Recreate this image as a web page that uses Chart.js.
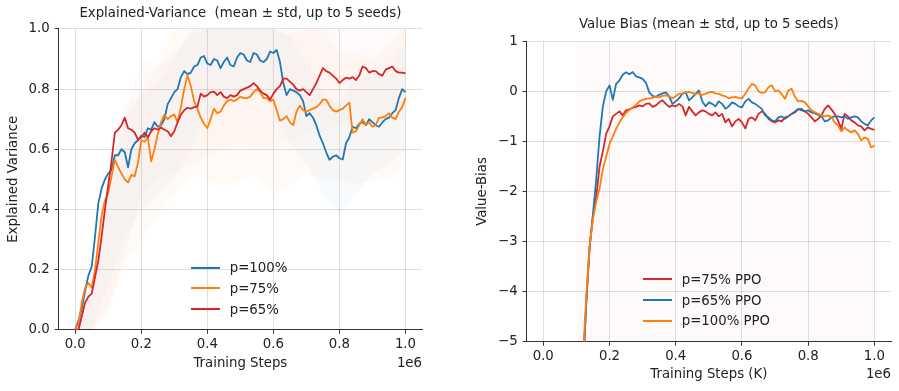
<!DOCTYPE html>
<html>
<head>
<meta charset="utf-8">
<script src="https://cdn.jsdelivr.net/npm/chart.js@4.4.1/dist/chart.umd.min.js"></script>
<style>
  body { margin: 0; background: #fff; width: 899px; height: 391px; position: relative; overflow: hidden; font-family: 'DejaVu Sans', sans-serif; }
  .panel { position: absolute; top: 0; }
  .legend { position: absolute; font-size: 13.3px; color: #222; }
  .legend .row { display: flex; align-items: center; height: 20.7px; white-space: nowrap; }
  .legend .swatch { display: inline-block; width: 29px; height: 2px; margin-right: 10px; }
</style>
</head>
<body>
<div class="panel" style="left:0"><canvas id="ev-chart" width="450" height="391" style="width:450px;height:391px"></canvas></div>
<div class="panel" style="left:450px"><canvas id="vb-chart" width="449" height="391" style="width:449px;height:391px"></canvas></div>
<div class="legend" id="ev-legend" style="left:190.7px; top:257.3px"></div>
<div class="legend" id="vb-legend" style="left:642.7px; top:269px"></div>

<script>
// Training steps (in thousands) for the mean curves
const stepsK = [0,10,20,30,40,50,60,70,80,90,100,110,120,130,140,150,160,170,180,190,
  200,210,220,230,240,250,260,270,280,290,300,310,320,330,340,350,360,370,380,390,
  400,410,420,430,440,450,460,470,480,490,500,510,520,530,540,550,560,570,580,590,
  600,610,620,630,640,650,660,670,680,690,700,710,720,730,740,750,760,770,780,790,
  800,810,820,830,840,850,860,870,880,890,900,910,920,930,940,950,960,970,980,990,1000];

// Coarser grid (thousands) for the std bands
const bandStepsK = [0,50,100,150,200,250,300,350,400,450,500,550,600,650,700,750,800,850,900,950,1000];

const xTicksK = [0, 200, 400, 600, 800, 1000];
const evTicks = [0, 0.2, 0.4, 0.6, 0.8, 1.0];
const vbTicks = [-5, -4, -3, -2, -1, 0, 1];

// Explained variance, mean curves
const evBlue = [0.00,0.03,0.07,0.13,0.18,0.21,0.31,0.42,0.47,0.50,
  0.52,0.53,0.58,0.58,0.60,0.59,0.54,0.60,0.62,0.63,
  0.645,0.64,0.67,0.665,0.69,0.675,0.68,0.70,0.75,0.77,
  0.79,0.80,0.84,0.86,0.85,0.855,0.875,0.88,0.905,0.91,
  0.885,0.88,0.90,0.895,0.87,0.89,0.905,0.88,0.875,0.905,
  0.92,0.915,0.895,0.89,0.92,0.915,0.895,0.89,0.90,0.925,
  0.92,0.93,0.89,0.82,0.78,0.80,0.795,0.79,0.78,0.76,
  0.71,0.72,0.705,0.68,0.645,0.62,0.59,0.565,0.575,0.58,
  0.57,0.566,0.62,0.64,0.675,0.67,0.685,0.69,0.68,0.70,
  0.69,0.68,0.675,0.69,0.70,0.705,0.72,0.73,0.77,0.80,
  0.79];
const evOrange = [0.00,0.02,0.09,0.14,0.155,0.14,0.20,0.29,0.38,0.43,
  0.455,0.51,0.565,0.54,0.52,0.50,0.49,0.515,0.51,0.555,
  0.63,0.625,0.64,0.56,0.60,0.65,0.69,0.715,0.70,0.71,
  0.715,0.69,0.74,0.80,0.845,0.81,0.76,0.735,0.705,0.685,
  0.67,0.70,0.735,0.72,0.725,0.745,0.76,0.765,0.76,0.765,
  0.775,0.77,0.77,0.775,0.79,0.80,0.79,0.77,0.77,0.76,
  0.765,0.73,0.695,0.70,0.71,0.69,0.68,0.725,0.745,0.73,
  0.725,0.73,0.735,0.74,0.75,0.765,0.765,0.745,0.73,0.725,
  0.73,0.735,0.745,0.755,0.655,0.66,0.68,0.70,0.68,0.69,
  0.675,0.68,0.705,0.705,0.71,0.72,0.705,0.70,0.725,0.74,
  0.77];
const evRed = [0.00,0.00,0.045,0.09,0.11,0.12,0.175,0.23,0.31,0.40,
  0.48,0.56,0.655,0.665,0.68,0.705,0.67,0.665,0.655,0.632,
  0.64,0.655,0.64,0.66,0.67,0.665,0.672,0.665,0.66,0.643,
  0.66,0.69,0.715,0.73,0.738,0.735,0.74,0.742,0.785,0.775,
  0.78,0.79,0.792,0.78,0.79,0.775,0.77,0.78,0.775,0.78,
  0.795,0.80,0.805,0.81,0.82,0.81,0.795,0.785,0.78,0.765,
  0.785,0.80,0.81,0.835,0.835,0.825,0.815,0.80,0.795,0.80,
  0.79,0.78,0.80,0.82,0.845,0.87,0.86,0.855,0.845,0.835,
  0.82,0.83,0.838,0.835,0.84,0.83,0.845,0.875,0.87,0.855,
  0.86,0.86,0.85,0.845,0.865,0.87,0.875,0.86,0.855,0.855,
  0.852];

// Explained variance, std bands
const evBlueLo   = [0,0.00,0.15,0.30,0.40,0.45,0.50,0.60,0.72,0.75,0.78,0.78,0.75,0.62,0.55,0.45,0.38,0.45,0.52,0.55,0.60];
const evBlueHi   = [0,0.12,0.50,0.70,0.78,0.82,0.90,1.00,1.00,1.00,1.00,1.00,1.00,0.98,0.88,0.78,0.75,0.85,0.85,0.88,0.95];
const evOrangeLo = [0,0.00,0.08,0.22,0.30,0.38,0.45,0.52,0.50,0.48,0.50,0.52,0.45,0.48,0.52,0.50,0.50,0.48,0.50,0.50,0.55];
const evOrangeHi = [0,0.22,0.50,0.75,0.78,0.88,1.00,1.05,1.05,1.05,1.05,1.05,1.00,0.98,1.00,1.00,0.92,0.92,0.90,0.95,1.00];
const evRedLo    = [0,0.00,0.05,0.25,0.45,0.50,0.52,0.55,0.58,0.60,0.62,0.60,0.62,0.62,0.65,0.65,0.68,0.70,0.70,0.70,0.70];
const evRedHi    = [0,0.15,0.45,0.70,0.90,0.88,0.92,0.98,1.00,1.00,1.00,1.05,1.05,1.00,1.00,1.05,1.00,1.00,1.00,1.00,1.00];

// Value bias, mean curves (nothing logged before ~110K steps)
const vbBlue = [null,null,null,null,null,null,null,null,null,null,null,null,
  -5.6,-4.2,-3.1,-2.45,-1.75,-0.9,-0.3,0.00,0.12,-0.17,
  0.15,0.22,0.33,0.38,0.34,0.385,0.30,0.28,0.25,0.17,
  -0.02,-0.09,-0.11,-0.07,-0.04,-0.02,-0.10,-0.25,-0.20,-0.14,
  -0.05,-0.02,-0.18,-0.12,-0.05,0.02,-0.20,-0.30,-0.22,-0.25,
  -0.30,-0.20,-0.25,-0.35,-0.30,-0.22,-0.25,-0.30,-0.32,-0.20,
  -0.15,-0.22,-0.25,-0.30,-0.35,-0.48,-0.52,-0.58,-0.60,-0.52,
  -0.50,-0.55,-0.50,-0.45,-0.40,-0.35,-0.38,-0.40,-0.38,-0.42,
  -0.44,-0.47,-0.50,-0.60,-0.58,-0.52,-0.50,-0.50,-0.52,-0.50,
  -0.55,-0.52,-0.50,-0.52,-0.60,-0.65,-0.68,-0.58,-0.52];
const vbRed = [null,null,null,null,null,null,null,null,null,null,null,null,
  -5.5,-4.2,-3.1,-2.5,-2.1,-1.5,-1.2,-0.85,-0.70,-0.50,
  -0.45,-0.40,-0.48,-0.38,-0.36,-0.33,-0.31,-0.28,-0.30,-0.25,
  -0.24,-0.31,-0.28,-0.22,-0.18,-0.25,-0.31,-0.28,-0.30,-0.25,
  -0.30,-0.48,-0.31,-0.40,-0.48,-0.42,-0.38,-0.40,-0.45,-0.48,
  -0.42,-0.50,-0.45,-0.62,-0.55,-0.70,-0.60,-0.55,-0.62,-0.74,
  -0.55,-0.52,-0.58,-0.45,-0.40,-0.45,-0.55,-0.60,-0.62,-0.58,
  -0.60,-0.52,-0.50,-0.45,-0.42,-0.36,-0.35,-0.40,-0.45,-0.52,
  -0.60,-0.55,-0.48,-0.35,-0.28,-0.36,-0.45,-0.58,-0.75,-0.45,
  -0.50,-0.58,-0.62,-0.68,-0.70,-0.78,-0.72,-0.75,-0.77];
const vbOrange = [null,null,null,null,null,null,null,null,null,null,null,
  -6.2,-5.3,-4.1,-3.1,-2.55,-2.2,-1.95,-1.55,-1.3,-1.05,
  -0.90,-0.75,-0.62,-0.52,-0.43,-0.37,-0.32,-0.27,-0.20,-0.17,
  -0.15,-0.14,-0.13,-0.11,-0.12,-0.09,-0.08,-0.10,-0.14,-0.10,
  -0.05,-0.04,-0.02,-0.01,-0.03,-0.05,-0.04,-0.07,-0.05,-0.02,
  -0.01,-0.04,-0.05,-0.08,-0.10,-0.14,-0.12,-0.11,-0.13,-0.14,
  -0.05,0.06,0.15,0.12,0.00,-0.03,-0.02,0.08,0.12,0.00,
  0.02,-0.06,-0.15,0.02,0.05,-0.11,-0.20,-0.19,-0.22,-0.30,
  -0.38,-0.42,-0.45,-0.48,-0.50,-0.48,-0.52,-0.62,-0.68,-0.80,
  -0.72,-0.78,-0.82,-0.78,-0.85,-0.98,-0.92,-0.95,-1.12,-1.08];

// Value bias, std bands (very wide, run past the axis limits)
const vbBandLo = [null,null,-6.5,-6.5,-6.5,-6.5,-6.5,-6.5,-6.5,-6.5,-6.5,-6.5,-6.5,-6.5,-6.5,-6.5,-6.5,-6.5,-6.5,-6.5,-6.5];
const vbBandHi = [null,null,1.5,1.5,1.5,1.5,1.5,1.5,1.5,1.5,1.5,1.5,1.5,1.5,1.5,1.5,1.5,1.5,1.5,1.5,1.5];

const BLUE = '#1f77b4', ORANGE = '#ff7f0e', RED = '#d62728';
const TEXT = '#222';
const FONT = { family: "'DejaVu Sans', sans-serif", size: 13.3, weight: 'normal' };

function toPoints(grid, values) {
  return grid.map((k, i) => ({ x: k * 1000, y: values[i] }));
}

function lineSet(label, values, color) {
  return {
    label: label,
    data: toPoints(stepsK, values),
    borderColor: color,
    backgroundColor: color,
    borderWidth: 1.8,
    borderJoinStyle: 'round',
    pointRadius: 0,
    tension: 0,
    fill: false
  };
}

function bandSets(lo, hi, rgba) {
  return [
    { label: '', data: toPoints(bandStepsK, lo), borderWidth: 0, pointRadius: 0, fill: false },
    { label: '', data: toPoints(bandStepsK, hi), borderWidth: 0, pointRadius: 0, fill: '-1', backgroundColor: rgba }
  ];
}

// Draws the matplotlib-style "1e6" multiplier under the right end of the x axis
const offsetTextPlugin = {
  id: 'offsetText',
  afterDraw(chart, args, opts) {
    const xs = chart.scales.x;
    const pad = xs.options.title.padding.bottom;
    const ctx = chart.ctx;
    ctx.save();
    ctx.font = `${FONT.size}px ${FONT.family}`;
    ctx.fillStyle = TEXT;
    ctx.textAlign = 'right';
    ctx.textBaseline = 'middle';
    ctx.fillText(opts.text, chart.chartArea.right, xs.bottom - pad - FONT.size * 0.6);
    ctx.restore();
  }
};

function buildOptions(cfg) {
  return {
    responsive: false,
    animation: false,
    events: [],
    layout: { padding: cfg.padding },
    plugins: {
      legend: { display: false },
      tooltip: { enabled: false },
      filler: { drawTime: 'beforeDatasetsDraw' },
      title: {
        display: true,
        text: cfg.title,
        fullSize: false,
        color: TEXT,
        font: FONT,
        padding: cfg.titlePadding
      },
      offsetText: { text: '1e6' }
    },
    scales: {
      x: {
        type: 'linear',
        min: -50000,
        max: 1050000,
        afterBuildTicks: s => { s.ticks = xTicksK.map(v => ({ value: v * 1000 })); },
        afterFit: s => { s.height = cfg.xHeight; },
        ticks: {
          color: TEXT, font: FONT, padding: 3, maxRotation: 0,
          callback: v => (v / 1e6).toFixed(1)
        },
        grid: { color: 'rgba(0,0,0,0.12)', tickColor: '#333', tickLength: 4 },
        border: { color: '#333', width: 1 },
        title: { display: true, text: cfg.xTitle, color: TEXT, font: FONT, padding: { top: 0, bottom: cfg.xTitlePad } }
      },
      y: {
        min: cfg.yMin,
        max: cfg.yMax,
        afterBuildTicks: s => { s.ticks = cfg.yTicks.map(v => ({ value: v })); },
        afterFit: s => { s.width = cfg.yWidth; },
        ticks: { color: TEXT, font: FONT, padding: 5, callback: cfg.yFormat },
        grid: { color: 'rgba(0,0,0,0.12)', tickColor: '#333', tickLength: 4 },
        border: { color: '#333', width: 1 },
        title: { display: true, text: cfg.yTitle, color: TEXT, font: FONT, padding: { top: cfg.yTitlePad, bottom: 0 } }
      }
    }
  };
}

// HTML legend, built from the chart's own datasets
function buildLegend(chart, containerId, order) {
  const box = document.getElementById(containerId);
  order.forEach(label => {
    const ds = chart.data.datasets.find(d => d.label === label);
    const row = document.createElement('div');
    row.className = 'row';
    row.innerHTML = `<span class="swatch" style="background:${ds.borderColor}"></span><span>${label}</span>`;
    box.appendChild(row);
  });
}

document.addEventListener('DOMContentLoaded', () => {
  // Left: explained variance (index 0 is drawn on top)
  const evChart = new Chart(document.getElementById('ev-chart'), {
    type: 'line',
    data: {
      datasets: [
        lineSet('p=65%', evRed, RED),
        lineSet('p=75%', evOrange, ORANGE),
        lineSet('p=100%', evBlue, BLUE),
        ...bandSets(evBlueLo, evBlueHi, 'rgba(31,119,180,0.03)'),
        ...bandSets(evOrangeLo, evOrangeHi, 'rgba(255,127,14,0.035)'),
        ...bandSets(evRedLo, evRedHi, 'rgba(214,39,40,0.025)')
      ]
    },
    options: buildOptions({
      title: 'Explained-Variance  (mean \u00b1 std, up to 5 seeds)',
      titlePadding: { top: 5.3, bottom: 7.7 },
      padding: { left: 0, right: 28, top: 0, bottom: 0 },
      xTitle: 'Training Steps', xTitlePad: 19, xHeight: 61.3,
      yTitle: 'Explained Variance', yTitlePad: 5.3, yWidth: 58.7,
      yMin: 0, yMax: 1, yTicks: evTicks,
      yFormat: v => v.toFixed(1)
    }),
    plugins: [offsetTextPlugin]
  });
  buildLegend(evChart, 'ev-legend', ['p=100%', 'p=75%', 'p=65%']);

  // Right: value bias
  const vbChart = new Chart(document.getElementById('vb-chart'), {
    type: 'line',
    data: {
      datasets: [
        lineSet('p=100% PPO', vbOrange, ORANGE),
        lineSet('p=65% PPO', vbBlue, BLUE),
        lineSet('p=75% PPO', vbRed, RED),
        ...bandSets(vbBandLo, vbBandHi, 'rgba(214,39,40,0.012)'),
        ...bandSets(vbBandLo, vbBandHi, 'rgba(255,127,14,0.008)'),
        ...bandSets(vbBandLo, vbBandHi, 'rgba(31,119,180,0.008)')
      ]
    },
    options: buildOptions({
      title: 'Value Bias (mean \u00b1 std, up to 5 seeds)',
      titlePadding: { top: 17, bottom: 8.3 },
      padding: { left: 20, right: 8, top: 0, bottom: 0 },
      xTitle: 'Training Steps (K)', xTitlePad: 8, xHeight: 49.3,
      yTitle: 'Value-Bias', yTitlePad: 5, yWidth: 56.7,
      yMin: -5, yMax: 1, yTicks: vbTicks,
      yFormat: v => (v < 0 ? '\u2212' + Math.abs(v) : String(v))
    }),
    plugins: [offsetTextPlugin]
  });
  buildLegend(vbChart, 'vb-legend', ['p=75% PPO', 'p=65% PPO', 'p=100% PPO']);
});
</script>
</body>
</html>
